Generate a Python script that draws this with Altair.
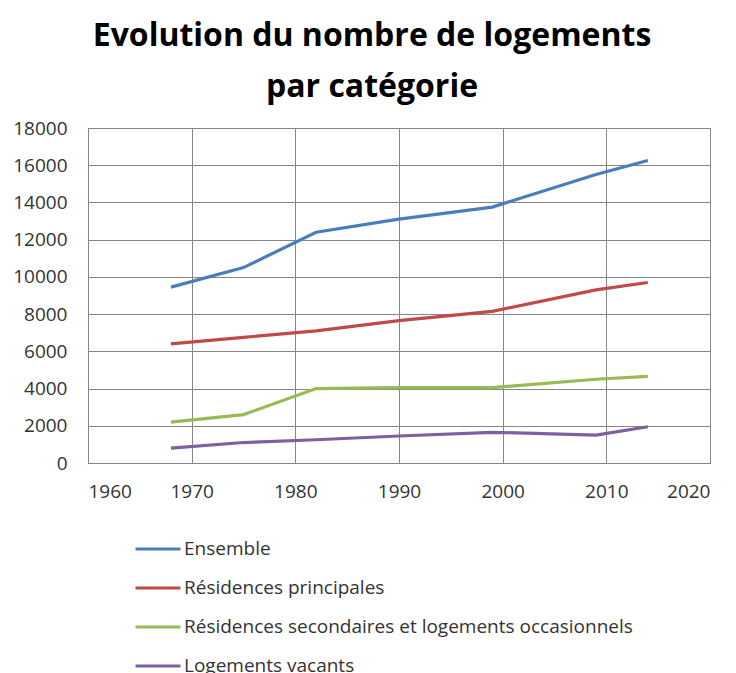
import altair as alt
import pandas as pd

years = [1968, 1975, 1982, 1990, 1999, 2009, 2014]
ensemble = [9450, 10500, 12400, 13100, 13750, 15500, 16250]
principales = [6400, 6750, 7100, 7650, 8150, 9300, 9700]
secondaires = [2200, 2600, 4000, 4050, 4050, 4500, 4650]
vacants = [800, 1100, 1250, 1450, 1650, 1500, 1950]

series = [
    "Ensemble",
    "Résidences principales",
    "Résidences secondaires et logements occasionnels",
    "Logements vacants",
]
colors = ["#4a7ebb", "#be4b48", "#98b954", "#7d60a0"]

rows = []
for name, vals in zip(series, [ensemble, principales, secondaires, vacants]):
    for y, v in zip(years, vals):
        rows.append({"annee": y, "logements": v, "serie": name})
df = pd.DataFrame(rows)

FONT = "Open Sans"
TXT = "#333333"

chart = (
    alt.Chart(df)
    .mark_line(strokeWidth=3.2)
    .encode(
        x=alt.X(
            "annee:Q",
            scale=alt.Scale(domain=[1960, 2020], nice=False, zero=False),
            axis=alt.Axis(
                values=[1960, 1970, 1980, 1990, 2000, 2010, 2020],
                format="d",
                title=None,
                ticks=False,
                labelPadding=19,
                labelFontSize=19,
                labelFont=FONT,
                labelColor=TXT,
                domainColor="#868686",
                gridColor="#868686",
                gridWidth=1,
            ),
        ),
        y=alt.Y(
            "logements:Q",
            scale=alt.Scale(domain=[0, 18000], nice=False),
            axis=alt.Axis(
                values=list(range(0, 18001, 2000)),
                format="d",
                title=None,
                ticks=False,
                labelPadding=21,
                labelFontSize=19,
                labelFont=FONT,
                labelColor=TXT,
                domainColor="#868686",
                gridColor="#868686",
                gridWidth=1,
            ),
        ),
        color=alt.Color(
            "serie:N",
            sort=series,
            scale=alt.Scale(domain=series, range=colors),
            legend=alt.Legend(
                title=None,
                orient="none",
                legendX=46,
                legendY=397,
                symbolType="stroke",
                symbolSize=2025,
                symbolStrokeWidth=3,
                labelFontSize=19,
                labelFont=FONT,
                labelColor=TXT,
                labelOffset=2,
                rowPadding=5,
                labelLimit=600,
            ),
        ),
    )
    .properties(
        width=622,
        height=335,
        autosize=alt.AutoSizeParams(type="none"),
        padding={"left": 80, "top": 120, "right": 18, "bottom": 210},
        title=alt.TitleParams(
            text=["Evolution du nombre de logements", "par catégorie"],
            anchor="middle",
            frame="group",
            dx=-27,
            fontSize=32,
            fontWeight="bold",
            font=FONT,
            color="#000000",
            lineHeight=51,
            offset=15,
        ),
    )
    .configure_view(stroke="#868686", strokeWidth=1)
    .configure(background="white")
)

chart.save("out.html", embed_options={"renderer": "svg", "actions": False})
